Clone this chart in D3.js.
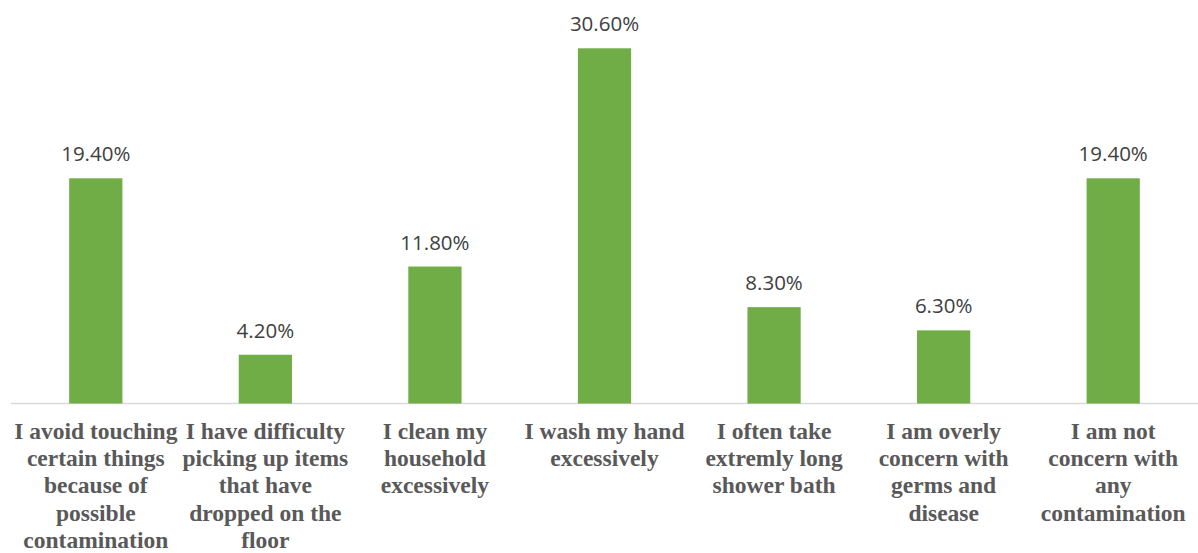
<!DOCTYPE html>
<html><head><meta charset="utf-8">
<script src="https://cdn.jsdelivr.net/npm/d3@7"></script>
<style>html,body{margin:0;padding:0;background:#fff;}svg{display:block;}</style>
</head><body>
<svg id="chart" width="1198" height="553"></svg>
<script>
const categories = [
  "I avoid touching\ncertain things\nbecause of\npossible\ncontamination",
  "I have difficulty\npicking up items\nthat have\ndropped on the\nfloor",
  "I clean my\nhousehold\nexcessively",
  "I wash my hand\nexcessively",
  "I often take\nextremly long\nshower bath",
  "I am overly\nconcern with\ngerms and\ndisease",
  "I am not\nconcern with\nany\ncontamination"
];
const values = [19.4, 4.2, 11.8, 30.6, 8.3, 6.3, 19.4];

const svg = d3.select("#chart");
const baseY = 403.5;
const x = d3.scaleBand().domain(d3.range(categories.length)).range([11, 1198]).paddingInner(0.686).paddingOuter(0.343);
const y = d3.scaleLinear().domain([0, 30.6]).range([baseY, 48.3]);

svg.append("line").attr("x1", 11).attr("x2", 1198).attr("y1", baseY).attr("y2", baseY)
  .attr("stroke", "#d9d9d9").attr("stroke-width", 1.5);

svg.selectAll("rect.bar").data(values).join("rect").attr("class","bar")
  .attr("x", (d,i)=>x(i)).attr("width", x.bandwidth())
  .attr("y", d=>y(d)).attr("height", d=>baseY - y(d))
  .attr("fill", "#70ad47");

svg.selectAll("text.val").data(values).join("text").attr("class","val")
  .attr("x", (d,i)=>x(i)+x.bandwidth()/2).attr("y", d=>y(d)-17)
  .attr("text-anchor","middle").attr("font-family","'Open Sans', sans-serif")
  .attr("font-size", 20.5).attr("fill","#404040")
  .text(d=>d.toFixed(2)+"%");

const lab = svg.selectAll("text.cat").data(categories).join("text").attr("class","cat")
  .attr("x", (d,i)=>x(i)+x.bandwidth()/2).attr("y", 439)
  .attr("text-anchor","middle").attr("font-family","'Liberation Serif', 'Times New Roman', serif")
  .attr("font-weight","bold").attr("font-size", 23.5).attr("fill","#595959");
lab.each(function(d,i){
  const t = d3.select(this);
  d.split("\n").forEach((ln,k)=>{
    t.append("tspan").attr("x", x(i)+x.bandwidth()/2).attr("y", 439 + k*27.2).text(ln);
  });
});
</script>
</body></html>
